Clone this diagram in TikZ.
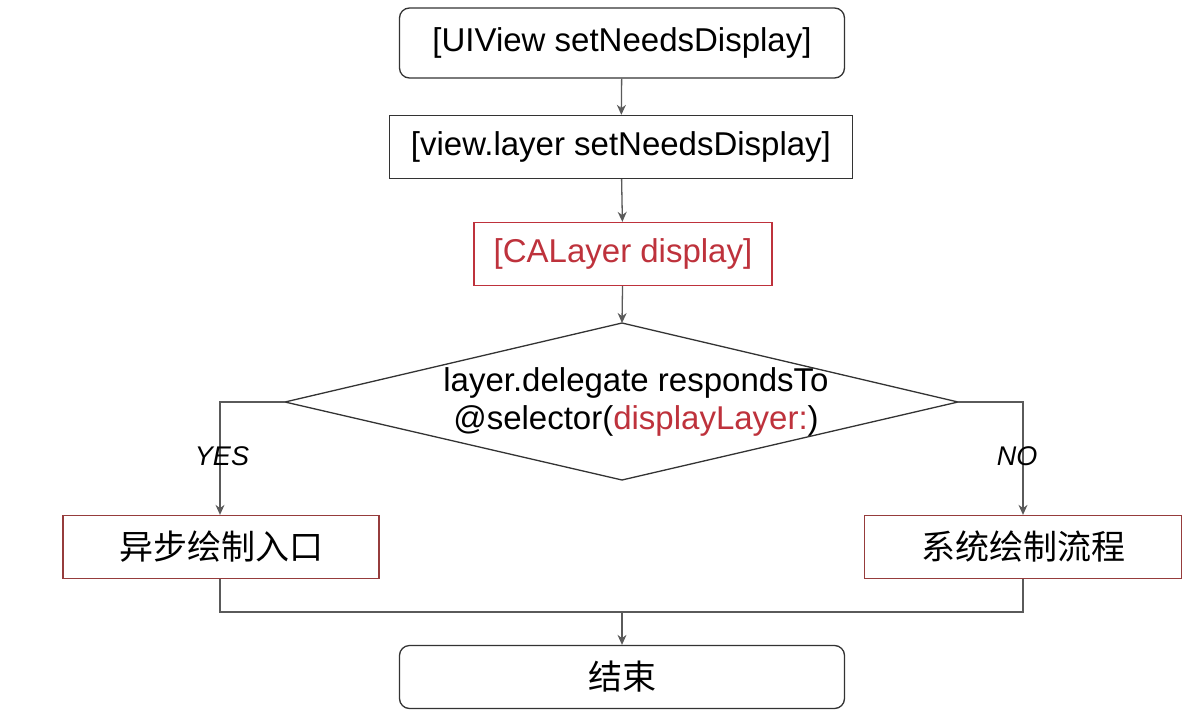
\documentclass[tikz,border=0pt]{standalone}
\usepackage{fontspec}
\setmainfont{Liberation Sans}
\newfontfamily\cjk{Noto Sans CJK SC}
\usetikzlibrary{arrows.meta}
\definecolor{rd}{RGB}{190,50,60}
\definecolor{brd}{RGB}{150,60,60}
\definecolor{ln}{RGB}{90,90,90}
\begin{document}
\begin{tikzpicture}[x=1pt,y=-1pt,
  txt/.style={font=\fontsize{33}{38}\selectfont},
  cj/.style={font=\cjk\fontsize{34}{38}\selectfont},
  box/.style={draw=black!80,line width=1.3pt,txt},
  arr/.style={draw=ln,line width=1.3pt,-{Stealth[length=10pt,width=9pt]}},
  con/.style={draw=ln,line width=1.3pt}]
\useasboundingbox[fill=white] (0,0) rectangle (1200,718);
\node[box,rounded corners=10pt,minimum width=445pt,minimum height=70pt] (a) at (622,43) {[UIView setNeedsDisplay]};
\node[box,minimum width=463pt,minimum height=63pt] (b) at (621,147) {[view.layer setNeedsDisplay]};
\node[box,draw=rd,text=rd,minimum width=298pt,minimum height=63pt] (c) at (623,254) {[CALayer display]};
\draw[line width=1.3pt,draw=black!80] (285,402) coordinate (dl) -- (622,323) coordinate (dt) -- (958,402) coordinate (dr) -- (622,480) -- cycle;
\node[txt,align=center] (dt1) at (636,402) {layer.delegate respondsTo\\@selector(\textcolor{rd}{displayLayer:})};
\node[box,cj,draw=brd,minimum width=316pt,minimum height=63pt] (l) at (221,547) {异步绘制入口};
\node[box,cj,draw=brd,minimum width=317pt,minimum height=63pt] (r) at (1023,547) {系统绘制流程};
\node[box,cj,rounded corners=10pt,minimum width=445pt,minimum height=63pt] (e) at (622,677) {结束};
\draw[arr] (a) -- (b);
\draw[arr] (b) -- (c);
\draw[arr] (c) -- (dt);
\draw[arr] (dl) -| (l.north -| 220,0);
\draw[arr] (dr) -| (r.north -| 1023,0);
\node[font=\itshape\fontsize{27}{30}\selectfont] (yes) at (222,456) {YES};
\node[font=\itshape\fontsize{27}{30}\selectfont] (no) at (1017,456) {NO};
\coordinate (j) at (622,612);
\draw[con] (l.south -| 220,0) |- (j);
\draw[con] (r.south -| 1023,0) |- (j);
\draw[arr] (j) -- (e);
\end{tikzpicture}
\end{document}
